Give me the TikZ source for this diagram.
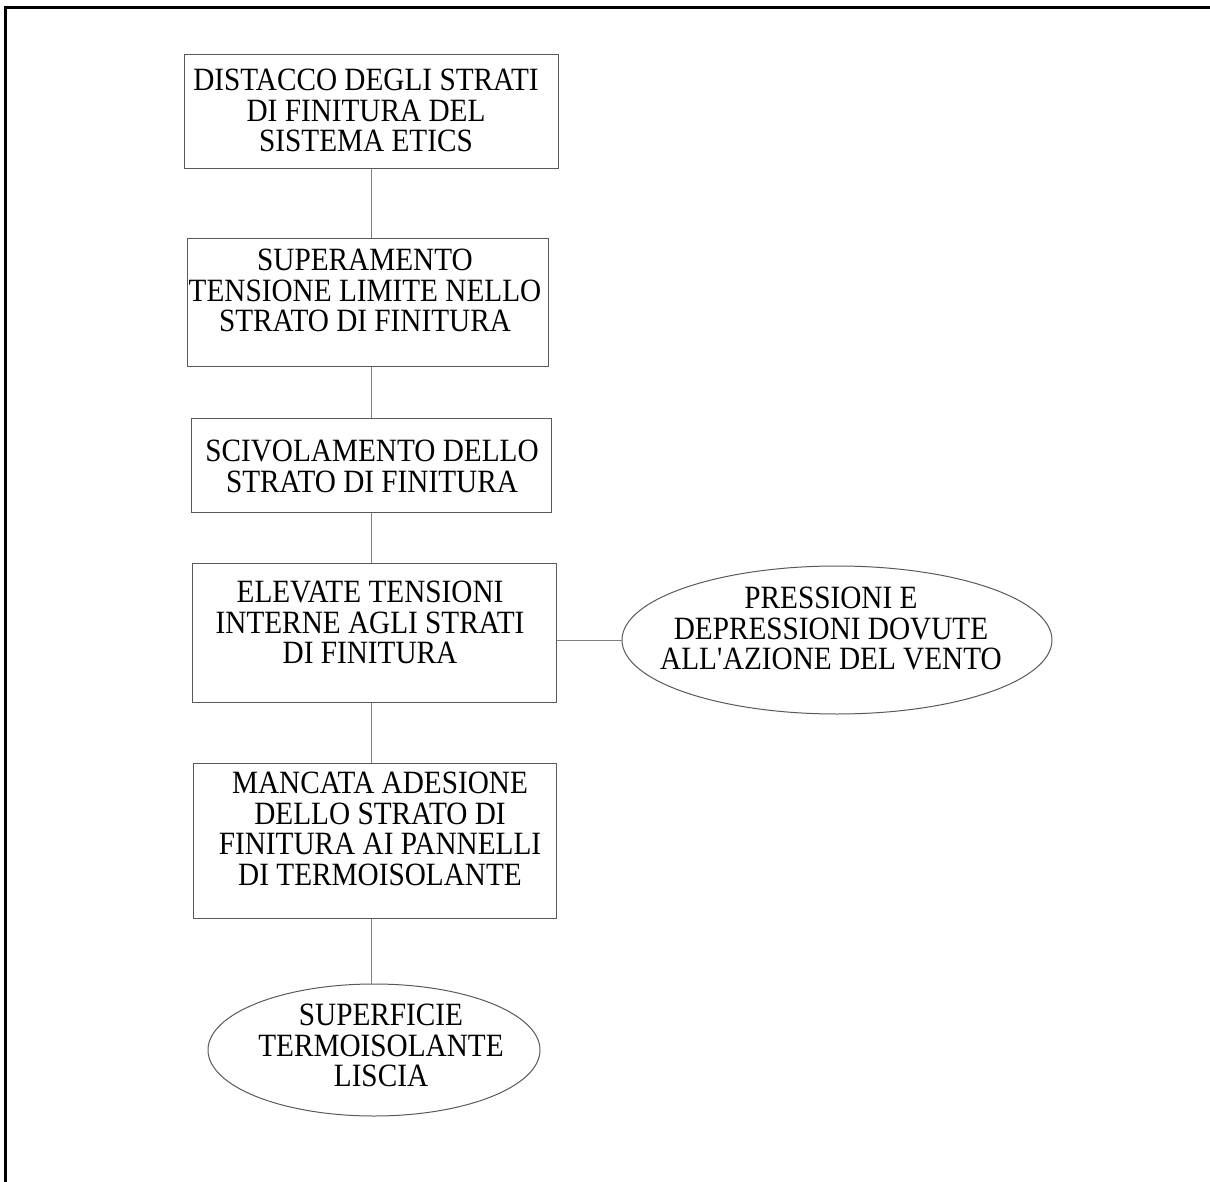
\documentclass[tikz,border=0pt]{standalone}
\usepackage{fontspec}
\setmainfont{Liberation Serif}[FakeStretch=0.9]
\usetikzlibrary{shapes.geometric}
\definecolor{boxgray}{gray}{0.35}
\definecolor{linkgray}{gray}{0.5}
\begin{document}
\begin{tikzpicture}[x=1pt,y=-1pt,
  box/.style={draw=boxgray, line width=1pt, inner sep=0pt, rectangle},
  oval/.style={draw=boxgray, line width=1pt, inner sep=0pt, ellipse},
  lbl/.style={anchor=north, align=center, inner sep=0pt, text=black,
              font=\fontsize{32.5}{30.5}\selectfont},
  link/.style={draw=linkgray, line width=1pt}]
\useasboundingbox (0,0) rectangle (1210,1182);

% page frame (top and left edges)
\draw[line width=3pt] (5.3,1182) -- (5.3,8) -- (1210,8);

% boxes of the chain
\node[box, minimum width=374pt, minimum height=114pt] (b1) at (371,112) {};
\node[box, minimum width=361pt, minimum height=127pt] (b2) at (367.5,302.5) {};
\node[box, minimum width=360pt, minimum height=94pt]  (b3) at (371,465) {};
\node[box, minimum width=364pt, minimum height=139pt] (b4) at (374,632.5) {};
\node[box, minimum width=363pt, minimum height=155pt] (b5) at (374.5,840.5) {};

% ovals
\node[oval, minimum width=430pt, minimum height=148pt] (e1) at (837,640) {};
\node[oval, minimum width=332pt, minimum height=132pt] (e2) at (374,1050) {};

% labels
\node[lbl] (t1) at (366,69) {DISTACCO DEGLI STRATI\\DI FINITURA DEL\\SISTEMA ETICS};
\node[lbl] (t2) at (365,249) {SUPERAMENTO\\TENSIONE LIMITE NELLO\\STRATO DI FINITURA};
\node[lbl] (t3) at (372,440) {SCIVOLAMENTO DELLO\\STRATO DI FINITURA};
\node[lbl] (t4) at (370,581) {ELEVATE TENSIONI\\INTERNE AGLI STRATI\\DI FINITURA};
\node[lbl] (t5) at (380,772)
  {MANCATA ADESIONE\\DELLO STRATO DI\\FINITURA AI PANNELLI\\DI TERMOISOLANTE};
\node[lbl] (t6) at (831,587) {PRESSIONI E\\DEPRESSIONI DOVUTE\\ALL\textquotesingle AZIONE DEL VENTO};
\node[lbl] (t7) at (381,1004) {SUPERFICIE\\TERMOISOLANTE\\LISCIA};

% connectors
\coordinate (spine) at (371,0);
\draw[link] (b1.south -| spine) -- (b2.north -| spine);
\draw[link] (b2.south -| spine) -- (b3.north -| spine);
\draw[link] (b3.south -| spine) -- (b4.north -| spine);
\draw[link] (b4.south -| spine) -- (b5.north -| spine);
\draw[link] (b5.south -| spine) -- (e2.north -| spine);
\draw[link] (b4.east |- e1.west) -- (e1.west);
\end{tikzpicture}
\end{document}
